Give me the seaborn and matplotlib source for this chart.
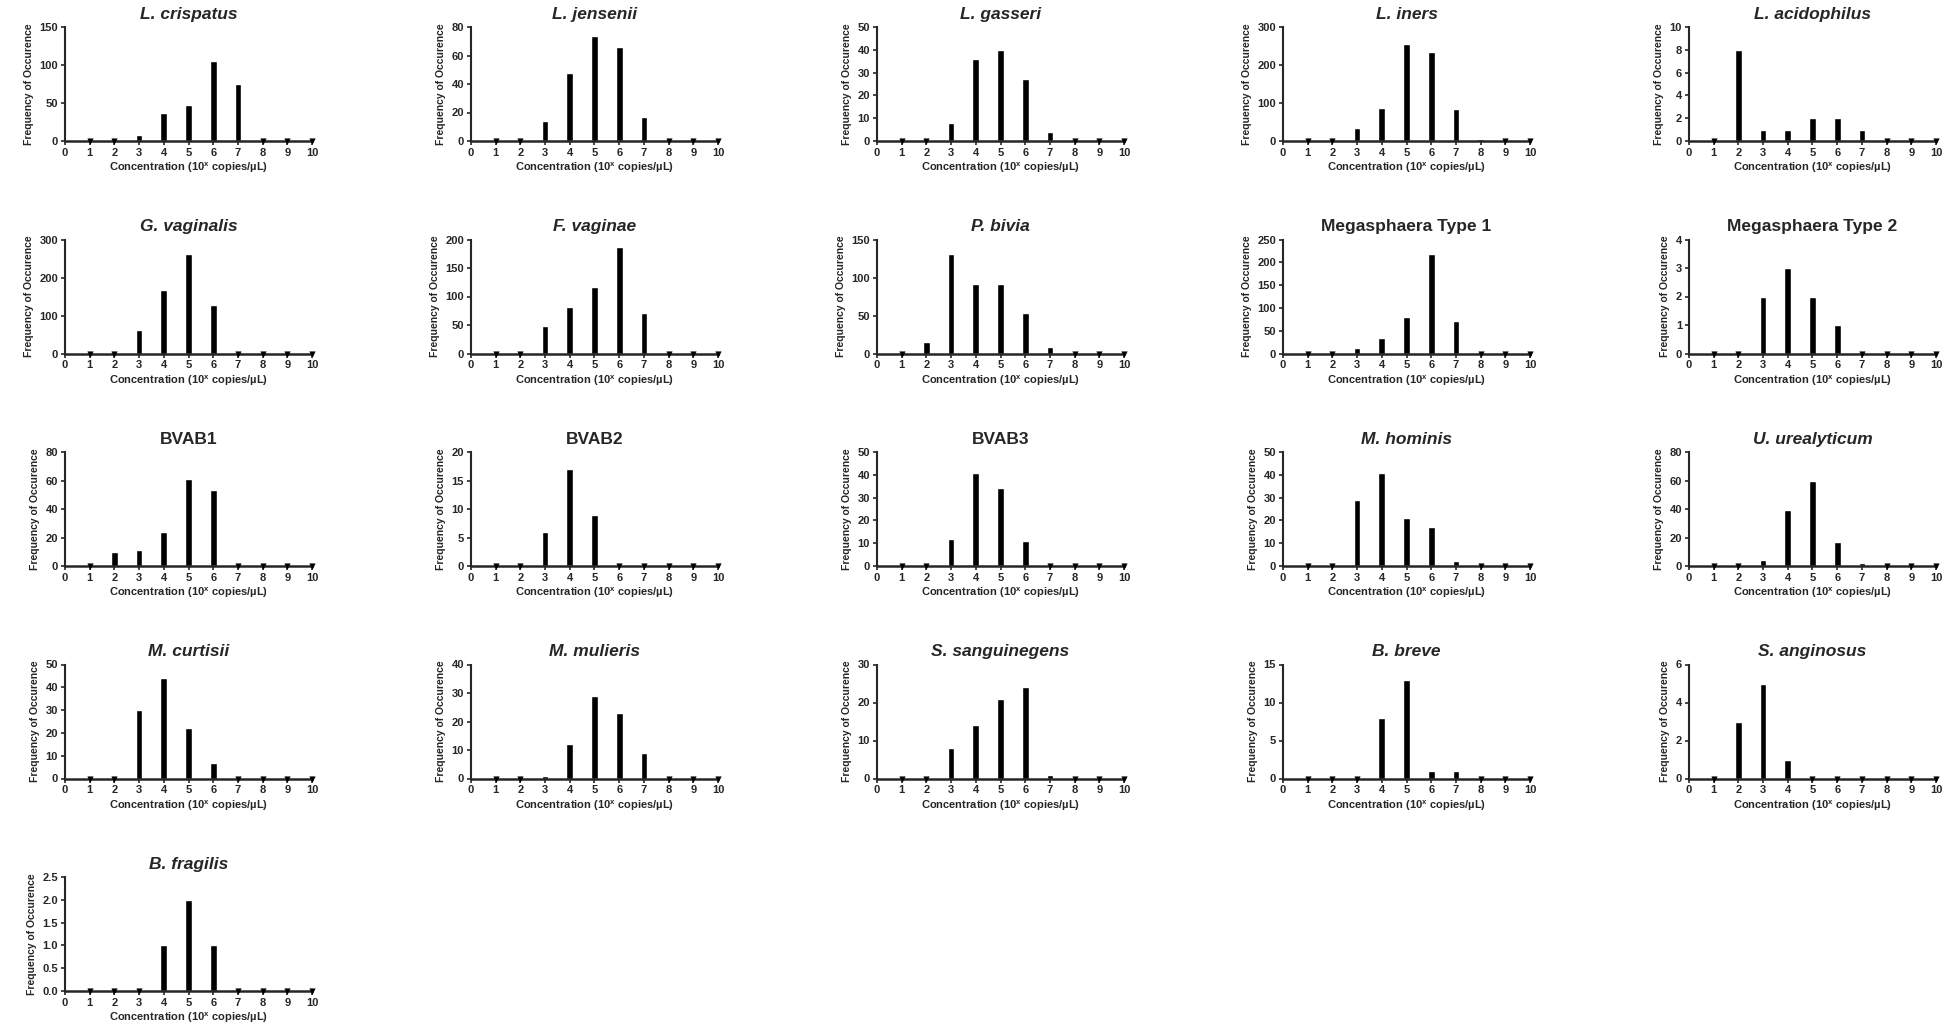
import numpy as np
import pandas as pd
import matplotlib
matplotlib.use("Agg")
import matplotlib.pyplot as plt
import seaborn as sns

# concentration bins (10^x copies/uL)
conc = [1, 2, 3, 4, 5, 6, 7, 8, 9, 10]

titles = ["L. crispatus", "L. jensenii", "L. gasseri", "L. iners", "L. acidophilus",
          "G. vaginalis", "F. vaginae", "P. bivia", "Megasphaera Type 1", "Megasphaera Type 2",
          "BVAB1", "BVAB2", "BVAB3", "M. hominis", "U. urealyticum",
          "M. curtisii", "M. mulieris", "S. sanguinegens", "B. breve", "S. anginosus",
          "B. fragilis"]
italic = [True, True, True, True, True,
          True, True, True, False, False,
          False, False, False, True, True,
          True, True, True, True, True,
          True]

freq = [
    [0, 0, 8, 37, 48, 105, 75, 0, 0, 0],
    [0, 0, 14, 48, 74, 66, 17, 0, 0, 0],
    [0, 0, 8, 36, 40, 27, 4, 0, 0, 0],
    [0, 0, 33, 88, 256, 234, 83, 5, 0, 0],
    [0, 8, 1, 1, 2, 2, 1, 0, 0, 0],
    [0, 0, 62, 166, 263, 127, 0, 0, 0, 0],
    [0, 0, 48, 81, 117, 186, 71, 0, 0, 0],
    [0, 15, 131, 92, 91, 53, 8, 0, 0, 0],
    [0, 0, 11, 35, 79, 219, 71, 0, 0, 0],
    [0, 0, 2, 3, 2, 1, 0, 0, 0, 0],
    [0, 10, 11, 24, 61, 53, 0, 0, 0, 0],
    [0, 0, 6, 17, 9, 0, 0, 0, 0, 0],
    [0, 0, 12, 41, 34, 11, 0, 0, 0, 0],
    [0, 0, 29, 41, 21, 17, 2, 0, 0, 0],
    [0, 0, 4, 39, 60, 17, 2, 0, 0, 0],
    [0, 0, 30, 44, 22, 7, 0, 0, 0, 0],
    [0, 0, 1, 12, 29, 23, 9, 0, 0, 0],
    [0, 0, 8, 14, 21, 24, 1, 0, 0, 0],
    [0, 0, 0, 8, 13, 1, 1, 0, 0, 0],
    [0, 3, 5, 1, 0, 0, 0, 0, 0, 0],
    [0, 0, 0, 1, 2, 1, 0, 0, 0, 0],
]

y_max = [150, 80, 50, 300, 10, 300, 200, 150, 250, 4, 80, 20, 50, 50, 80, 50, 40, 30, 15, 6, 2.5]
y_step = [50, 20, 10, 100, 2, 100, 50, 50, 50, 1, 20, 5, 10, 10, 20, 10, 10, 10, 5, 2, 0.5]

sns.set_style("ticks")
plt.rcParams["font.family"] = ["Liberation Sans", "DejaVu Sans"]
plt.rcParams["font.weight"] = "bold"
plt.rcParams["mathtext.default"] = "regular"

W, H = 1949, 1026
fig = plt.figure(figsize=(W / 100, H / 100), dpi=100)

for i, name in enumerate(titles):
    row, col = divmod(i, 5)
    left = 65 + 406 * col
    top = 27 + 212.5 * row
    ax = fig.add_axes([left / W, 1 - (top + 114) / H, 247 / W, 114 / H])

    df = pd.DataFrame({"conc": conc, "freq": freq[i]})
    sns.barplot(data=df, x="conc", y="freq", native_scale=True, width=0.27,
                color="black", saturation=1, ax=ax)
    zeros = df[df["freq"] == 0]
    sns.scatterplot(data=zeros, x="conc", y="freq", marker="v", s=16, color="black",
                    edgecolor="black", linewidth=0.3, clip_on=False, ax=ax, zorder=5)

    ax.set_xlim(0, 10)
    ax.set_ylim(0, y_max[i])
    ax.set_xticks(range(0, 11))
    yt = np.arange(0, y_max[i] + y_step[i] / 2, y_step[i])
    ax.set_yticks(yt)
    if y_step[i] < 1:
        ax.set_yticklabels([f"{v:.1f}" for v in yt])
    ax.tick_params(axis="both", labelsize=8, length=3, width=1.2, pad=2)
    for lbl in ax.get_xticklabels() + ax.get_yticklabels():
        lbl.set_fontweight("bold")
    sns.despine(ax=ax)
    ax.spines["left"].set_linewidth(1.5)
    ax.spines["bottom"].set_linewidth(1.8)

    ax.set_title(name, fontsize=12.5, fontweight="bold",
                 fontstyle="italic" if italic[i] else "normal", pad=6)
    ax.set_xlabel("Concentration (10$^{x}$ copies/µL)", fontsize=8, fontweight="bold", labelpad=2)
    ax.set_ylabel("Frequency of Occurence", fontsize=7.5, fontweight="bold", labelpad=4)

fig.savefig("out.png", dpi=100)
